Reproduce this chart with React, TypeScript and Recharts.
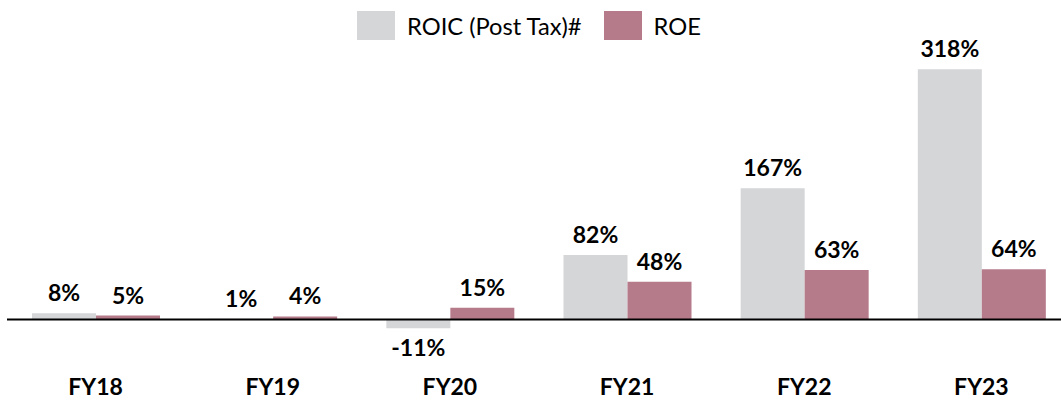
import React from 'react';
import { BarChart, Bar, XAxis, YAxis, Legend, LabelList, ReferenceLine } from 'recharts';

const categories = ['FY18', 'FY19', 'FY20', 'FY21', 'FY22', 'FY23'];
const roic = [8, 1, -11, 82, 167, 318];
const roe = [5, 4, 15, 48, 63, 64];

const GREY = '#d5d6d8';
const ROSE = '#b67b8b';
const FONT = "Lato, 'Open Sans', sans-serif";

const data = categories.map((name, i) => ({ name, roic: roic[i], roe: roe[i] }));

const series = [
  { key: 'roic', label: 'ROIC (Post Tax)#', color: GREY },
  { key: 'roe', label: 'ROE', color: ROSE },
];

function ValueLabel(props: any) {
  const { x, y, width, height, value } = props;
  const top = Math.min(y, y + height);
  const bottom = Math.max(y, y + height);
  const ty = value < 0 ? bottom + 28 : top - 12;
  return (
    <text x={x + width / 2} y={ty} textAnchor="middle" fontFamily={FONT} fontWeight={700} fontSize={23} fill="#000">
      {value}%
    </text>
  );
}

function TopLegend() {
  return (
    <div style={{ display: 'flex', alignItems: 'center', fontFamily: FONT, fontSize: 23.7, color: '#000' }}>
      {series.map((s, i) => (
        <div key={s.key} style={{ display: 'flex', alignItems: 'center', marginLeft: i === 0 ? 0 : 22 }}>
          <span style={{ width: 38, height: 29, background: s.color, marginRight: 12, display: 'inline-block' }} />
          <span style={{ lineHeight: '29px', paddingTop: 3 }}>{s.label}</span>
        </div>
      ))}
    </div>
  );
}

export default function App() {
  return (
    <div style={{ position: 'absolute', left: 0, top: 0, width: 1061, height: 400, overflow: 'hidden', background: '#fff' }}>
      <BarChart
        width={1080}
        height={400}
        data={data}
        margin={{ top: 52, right: 10, bottom: 30, left: 7 }}
        barGap={0}
        barCategoryGap={25}
      >
        <XAxis
          dataKey="name"
          axisLine={false}
          tickLine={false}
          height={30}
          tickMargin={33}
          tick={{ fontFamily: FONT, fontWeight: 700, fontSize: 23, fill: '#000' }}
        />
        <YAxis hide domain={[-26, 340]} />
        <Legend
          verticalAlign="middle"
          align="center"
          wrapperStyle={{ top: 9, left: 357, width: 420 }}
          content={() => <TopLegend />}
        />
        {series.map((s) => (
          <Bar key={s.key} dataKey={s.key} fill={s.color} isAnimationActive={false}>
            <LabelList dataKey={s.key} content={ValueLabel} />
          </Bar>
        ))}
        <ReferenceLine y={0} stroke="#000" strokeWidth={2} />
      </BarChart>
    </div>
  );
}
